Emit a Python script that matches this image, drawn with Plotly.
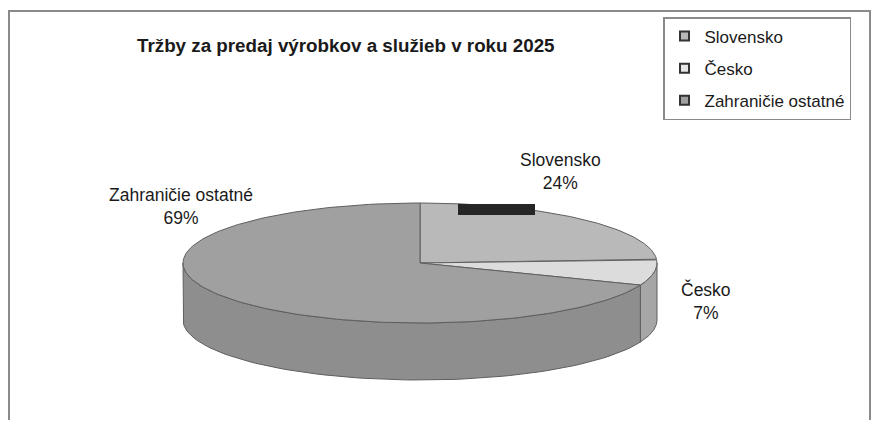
import numpy as np
import plotly.graph_objects as go

# ---- data ----
categories = ["Slovensko", "Česko", "Zahraničie ostatné"]
shares = [24, 7, 69]
title_text = "Tržby za predaj výrobkov a služieb v roku 2025"

# ---- style ----
top_colors = ["#b9b9b9", "#dcdcdc", "#a0a0a0"]
side_colors = ["#9a9a9a", "#a6a6a6", "#8e8e8e"]
legend_colors = ["#b9b9b9", "#e6e6e6", "#a0a0a0"]
edge = "#5f5f5f"
OFF = 8  # page body margin
W, H = 879 - 2 * OFF, 428 - 2 * OFF
cx, cy, rx, ry, depth = 420, 263, 237, 60, 57
label_pos = [(560, 171), (706, 301), (181, 206)]
FONT = "Liberation Sans, Arial, sans-serif"

total = float(sum(shares))
fracs = [v / total for v in shares]
starts = np.cumsum([0] + fracs[:-1]) * 360.0
ends = starts + np.array(fracs) * 360.0


def pt(theta_deg, dy=0.0):
    t = np.radians(theta_deg)
    return cx + rx * np.sin(t), cy - ry * np.cos(t) + dy


fig = go.Figure()

# side walls (visible front half: 90..270 deg clockwise from top)
for i in range(len(categories)):
    a, b = max(starts[i], 90.0), min(ends[i], 270.0)
    if b <= a:
        continue
    th = np.linspace(a, b, 80)
    xt, yt = pt(th)
    xb, yb = pt(th[::-1], depth)
    fig.add_trace(go.Scatter(
        x=np.concatenate([xt, xb, xt[:1]]), y=np.concatenate([yt, yb, yt[:1]]),
        mode="lines", fill="toself", fillcolor=side_colors[i],
        line=dict(color=edge, width=1), hoverinfo="skip", showlegend=False))

# top faces
for i in range(len(categories)):
    th = np.linspace(starts[i], ends[i], 160)
    xs, ys = pt(th)
    fig.add_trace(go.Scatter(
        x=np.concatenate([[cx], xs, [cx]]), y=np.concatenate([[cy], ys, [cy]]),
        mode="lines", fill="toself", fillcolor=top_colors[i],
        line=dict(color=edge, width=1), name=categories[i],
        hoverinfo="skip", showlegend=False))

# legend entries
for i, c in enumerate(categories):
    fig.add_trace(go.Scatter(
        x=[None], y=[None], mode="markers", name=c, legendgroup=c,
        marker=dict(symbol="square", size=9, color=legend_colors[i],
                    line=dict(color="#333333", width=2))))

# labels
for i, c in enumerate(categories):
    pct = round(shares[i] / total * 100)
    fig.add_annotation(x=label_pos[i][0], y=label_pos[i][1], xref="x", yref="y",
                       text=f"{c}<br>{pct}%", showarrow=False,
                       font=dict(family=FONT, size=17.5, color="#1a1a1a"))

fig.add_annotation(x=346, y=45, xref="x", yref="y", text=f"<b>{title_text}</b>",
                   showarrow=False, font=dict(family=FONT, size=18.8, color="#1a1a1a"))

# frame
fig.add_shape(type="rect", x0=9, y0=11, x1=870, y1=430, xref="x", yref="y",
              line=dict(color="#8a8a8a", width=2), layer="below")
# dark scan mark near top of pie
fig.add_shape(type="rect", x0=458, y0=204, x1=535, y1=215, xref="x", yref="y",
              line=dict(width=0), fillcolor="#262626")

fig.update_layout(
    width=W, height=H, margin=dict(l=0, r=0, t=0, b=0),
    paper_bgcolor="white", plot_bgcolor="white",
    xaxis=dict(range=[OFF, OFF + W], visible=False, fixedrange=True),
    yaxis=dict(range=[OFF + H, OFF], visible=False, fixedrange=True),
    showlegend=True,
    legend=dict(x=(663 - OFF) / W, y=1 - (17 - OFF) / H, xanchor="left", yanchor="top",
                bordercolor="#8a8a8a", borderwidth=1.5, bgcolor="white",
                font=dict(family=FONT, size=17, color="#1a1a1a"),
                tracegroupgap=7, itemwidth=30),
    font=dict(family=FONT),
)

fig.write_html("out.html")
